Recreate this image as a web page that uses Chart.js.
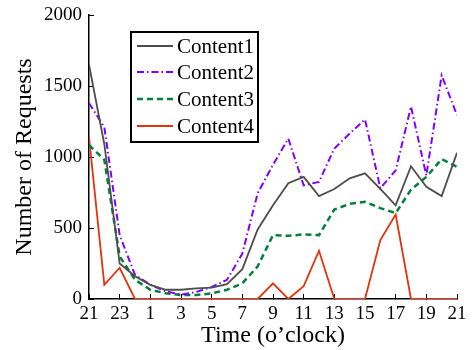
<!DOCTYPE html>
<html>
<head>
<meta charset="utf-8">
<script src="https://cdn.jsdelivr.net/npm/chart.js@4/dist/chart.umd.min.js"></script>
<style>
html,body{margin:0;padding:0;background:#fff;}
#wrap{width:472px;height:350px;position:relative;}
</style>
</head>
<body>
<div id="wrap"><canvas id="c" width="472" height="350"></canvas></div>
<script>
const hours = [21,22,23,0,1,2,3,4,5,6,7,8,9,10,11,12,13,14,15,16,17,18,19,20,21];
const content1 = [1650,1090,250,160,100,65,65,75,80,105,210,490,660,815,860,725,775,850,885,775,660,935,790,725,1030];
const content2 = [1380,1210,450,170,100,55,30,50,85,135,320,745,945,1130,800,825,1060,1165,1265,780,905,1355,870,1575,1295];
const content3 = [1085,980,300,135,65,40,28,28,40,65,110,230,450,445,455,450,630,670,685,640,605,770,860,985,930];
const content4 = [1140,100,220,0,0,0,0,0,0,0,0,0,110,0,90,340,0,0,0,415,595,0,0,0,0];
const seriesNames = ['Content1','Content2','Content3','Content4'];
const yTicks = [0,500,1000,1500,2000];

const FONT = "'Liberation Serif', 'Times New Roman', serif";
Chart.defaults.font.family = FONT;
const toXY = arr => arr.map((v,i)=>({x:i,y:v}));

const styles = [
  {borderColor:'#4d4d4d', borderWidth:1.8, borderDash:[]},
  {borderColor:'#8000ff', borderWidth:2, borderDash:[7,3,1.5,3]},
  {borderColor:'#00803c', borderWidth:2.5, borderDash:[6,4]},
  {borderColor:'#e4330c', borderWidth:1.8, borderDash:[]}
];
const values = [content1, content2, content3, content4];

const legendPlugin = {
  id:'boxLegend',
  afterDraw(chart){
    const ctx = chart.ctx;
    ctx.save();
    ctx.fillStyle = '#fff';
    ctx.fillRect(131,32,127,110);
    ctx.lineWidth = 2;
    ctx.strokeStyle = '#000';
    ctx.setLineDash([]);
    ctx.strokeRect(131,32,127,110);
    const rows = [46,72,99,126];
    chart.data.datasets.forEach((ds,i)=>{
      ctx.beginPath();
      ctx.strokeStyle = ds.borderColor;
      ctx.lineWidth = ds.borderWidth;
      ctx.setLineDash(ds.borderDash||[]);
      ctx.moveTo(137, rows[i]);
      ctx.lineTo(173, rows[i]);
      ctx.stroke();
      ctx.setLineDash([]);
      ctx.fillStyle = '#000';
      ctx.font = "21px " + FONT;
      ctx.textBaseline = 'middle';
      ctx.textAlign = 'left';
      ctx.fillText(ds.label, 177, rows[i]+1);
    });
    ctx.restore();
  }
};

new Chart(document.getElementById('c'), {
  type:'line',
  data:{
    datasets: values.map((arr,i)=>Object.assign({
      label: seriesNames[i],
      data: toXY(arr),
      pointRadius:0,
      tension:0,
      fill:false
    }, styles[i]))
  },
  options:{
    responsive:false,
    animation:false,
    layout:{padding:{top:15,right:15,left:0,bottom:0}},
    plugins:{legend:{display:false}, tooltip:{enabled:false}},
    scales:{
      x:{
        type:'linear', min:0, max:24,
        afterBuildTicks: s => { s.ticks = hours.map((h,i)=>({value:i})).filter(t=>t.value%2===0); },
        ticks:{
          callback:(v)=>String(hours[v]),
          font:{family:FONT,size:19}, color:'#000', padding:9, maxRotation:0, autoSkip:false
        },
        grid:{drawOnChartArea:false, drawTicks:true, tickLength:-5, color:'#000', lineWidth:1},
        border:{display:true, color:'#000', width:1.5},
        title:{display:true, text:'Time (o\u2019clock)', font:{family:FONT,size:24}, color:'#000', padding:{top:0,bottom:0}},
        afterFit: s => { s.height = 51; s.paddingLeft = 0; s.paddingRight = 0; }
      },
      y:{
        min:0, max:2000,
        afterBuildTicks: s => { s.ticks = yTicks.map(v=>({value:v})); },
        ticks:{callback:(v)=>String(v), font:{family:FONT,size:19}, color:'#000', padding:12},
        grid:{drawOnChartArea:false, drawTicks:true, tickLength:-5, color:'#000', lineWidth:1},
        border:{display:true, color:'#000', width:1.5},
        title:{display:true, text:'Number of Requests', font:{family:FONT,size:24}, color:'#000', padding:{top:10,bottom:0}},
        afterFit: s => { s.width = 89; s.paddingTop = 0; s.paddingBottom = 0; }
      }
    }
  },
  plugins:[legendPlugin]
});
</script>
</body>
</html>
